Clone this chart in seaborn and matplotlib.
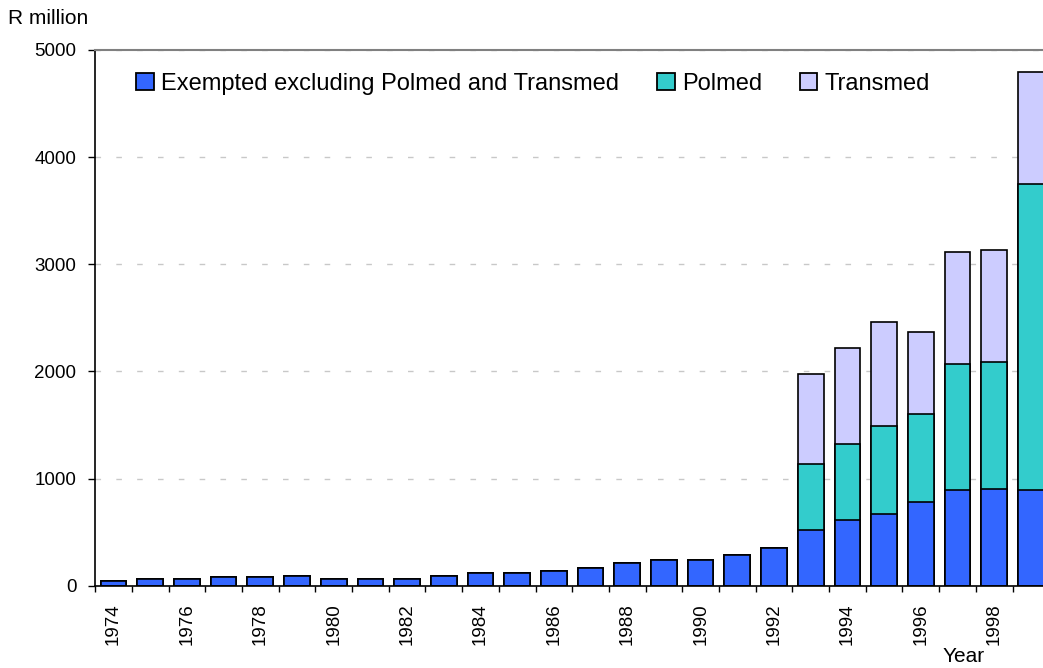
import numpy as np
import pandas as pd
import seaborn as sns
import matplotlib.pyplot as plt
from matplotlib.patches import Patch

# Values (R million)
years = [str(y) for y in range(1974, 2000)]
exempted = [40, 60, 60, 78, 78, 93, 60, 60, 60, 93, 116, 116, 134, 168, 209,
            243, 243, 284, 355, 520, 610, 665, 780, 890, 905, 890]
polmed = [0] * 19 + [615, 710, 825, 820, 1180, 1180, 2860]
transmed = [0] * 19 + [845, 900, 970, 770, 1045, 1050, 1045]

labels = ['Exempted excluding Polmed and Transmed', 'Polmed', 'Transmed']
colors = ['#3366FF', '#33CCCC', '#CCCCFF']

df = pd.DataFrame({'year': years, 'exempted': exempted,
                   'polmed': polmed, 'transmed': transmed})
df['upto_polmed'] = df['exempted'] + df['polmed']
df['total'] = df['upto_polmed'] + df['transmed']

sns.set_style('white')
plt.rcParams['font.family'] = ['Liberation Sans', 'DejaVu Sans']
plt.rcParams['text.color'] = 'black'
plt.rcParams['xtick.color'] = 'black'
plt.rcParams['ytick.color'] = 'black'

fig = plt.figure(figsize=(10.43, 6.68), dpi=100)
ax = fig.add_axes([95.2 / 1043, 1 - 585.7 / 668, (1043 - 95.2) / 1043, (585.7 - 50) / 668])

# Stacked bars drawn as overlapping cumulative layers
bar_kw = dict(order=years, width=0.7, edgecolor='black', linewidth=1.2,
              saturation=1, errorbar=None, ax=ax)
sns.barplot(data=df, x='year', y='total', color=colors[2], **bar_kw)
sns.barplot(data=df, x='year', y='upto_polmed', color=colors[1], **bar_kw)
sns.barplot(data=df, x='year', y='exempted', color=colors[0], **bar_kw)

ax.set_ylim(0, 5000)
ax.set_xlim(-0.5, 25.33)
ax.set_xlabel('')
ax.set_ylabel('')

# y axis
ax.set_yticks(range(0, 5001, 1000))
ax.tick_params(axis='y', direction='out', length=5, width=1, color='black',
               labelsize=13.5, labelcolor='black', pad=8.5, left=True)
ax.set_axisbelow(True)
ax.yaxis.grid(True, linestyle=(0, (4, 11)), color='#c8c8c8', linewidth=1)
ax.xaxis.grid(False)

# x axis: ticks between bars, labels every other year
ax.set_xticks(np.arange(-0.5, 25.0, 1.0))
ax.set_xticklabels([])
ax.tick_params(axis='x', which='major', direction='out', length=4, width=1,
               color='black', bottom=True)
ax.set_xticks(np.arange(0, 26, 2), minor=True)
ax.set_xticklabels(years[::2], minor=True, rotation=90, fontsize=13.5, color='black')
ax.tick_params(axis='x', which='minor', length=0, pad=12.5)

for side in ['left', 'bottom']:
    ax.spines[side].set_color('black')
    ax.spines[side].set_linewidth(1.2)
ax.spines['right'].set_visible(False)
ax.spines['top'].set_color('#808080')
ax.spines['top'].set_linewidth(1.5)

handles = [Patch(facecolor=c, edgecolor='black', linewidth=1.3) for c in colors]
fig.legend(handles, labels, loc='center left',
           bbox_to_anchor=(127 / 1043, 1 - 84 / 668), ncol=3, frameon=False,
           fontsize=17, handlelength=0.75, handleheight=0.75, handletextpad=0.3,
           columnspacing=1.6, borderaxespad=0, labelcolor='black')

fig.text(8 / 1043, 1 - 18 / 668, 'R million', fontsize=15, ha='left', va='center')
fig.text(964 / 1043, 1 - 657 / 668, 'Year', fontsize=15, ha='center', va='center')

fig.savefig('out.png', dpi=100)
